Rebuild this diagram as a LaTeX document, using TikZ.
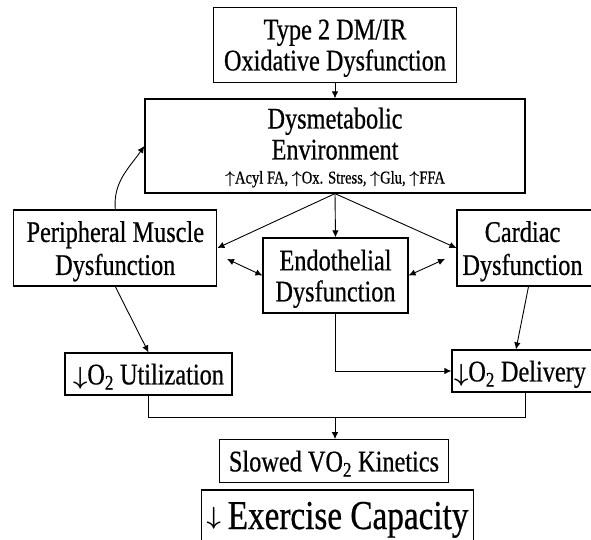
\documentclass[tikz,border=0pt]{standalone}
\usepackage{amsmath}
\usepackage{fontspec}
\setmainfont{Liberation Serif}[FakeStretch=0.81, FakeBold=0.6]
\usetikzlibrary{arrows.meta}

\tikzset{
  box/.style={draw, line width=1.2pt, inner sep=0pt, align=center, text depth=0pt,
    font=\fontsize{30}{31}\selectfont},
  lbl/.style={inner sep=0pt, anchor=base},
  arr/.style={line width=0.9pt, -{Latex[length=7pt,width=6.5pt]}},
  dbl/.style={line width=0.9pt, {Latex[length=7pt,width=6.5pt]}-{Latex[length=7pt,width=6.5pt]}}
}
\newcommand{\uparr}{$\boldsymbol{\uparrow}$}
\newcommand{\dnarr}{$\boldsymbol{\downarrow}$}

\begin{document}
\begin{tikzpicture}[x=1pt, y=1pt]
  \useasboundingbox (0,0) rectangle (591,539);
  \clip (0,0) rectangle (591,539);
  % boxes
  \node[box, minimum width=243pt, minimum height=75pt] (type2) at (335,494)
    {Type 2 DM/IR\\Oxidative Dysfunction};
  \node[box, minimum width=380pt, minimum height=94pt] (dysmet) at (335,393) {};
  \node[lbl, font=\fontsize{30}{31}\selectfont] (dysmettop) at (335,410.5) {Dysmetabolic};
  \node[lbl, font=\fontsize{30}{31}\selectfont] (dysmetmid) at (335,379.5) {Environment};
  \node[lbl, font=\fontsize{18}{20}\selectfont] (dysmetsub) at (335,355.5)
    {\uparr Acyl FA, \uparr Ox. Stress, \uparr Glu, \uparr FFA};
  \node[box, minimum width=203pt, minimum height=76pt, font=\fontsize{30}{33}\selectfont] (periph) at (115.3,291)
    {Peripheral Muscle\\Dysfunction};
  \node[box, minimum width=145pt, minimum height=75pt] (endo) at (335.5,263.5)
    {Endothelial\\Dysfunction};
  \node[box, minimum width=143pt, minimum height=76pt, font=\fontsize{30}{33}\selectfont] (cardiac) at (528.5,291)
    {\hspace*{-12pt}Cardiac\\\hspace*{-12pt}Dysfunction};
  \node[box, minimum width=167pt, minimum height=42pt] (outil) at (148.5,165)
    {\dnarr O\textsubscript{2} Utilization};
  \node[box, minimum width=148pt, minimum height=42pt] (odeliv) at (526,168)
    {\hspace*{-12pt}\dnarr O\textsubscript{2} Delivery};
  \node[box, minimum width=229pt, minimum height=42.5pt] (slowed) at (334,78)
    {Slowed VO\textsubscript{2} Kinetics};
  \node[box, minimum width=271.6pt, minimum height=60pt] (exercise) at (337.5,19) {};
  \node[lbl, font=\fontsize{41}{43}\selectfont] (exercisetxt) at (337.5,10)
    {\raisebox{4.5pt}{\fontsize{24}{24}\selectfont\dnarr}\,Exercise Capacity};
  % free ends and junction
  \coordinate (lefttip) at (227,280);
  \coordinate (righttip) at (445,280);
  \coordinate (join) at (335,122);
  % connectors
  \draw[arr] (type2.south) -- (dysmet.north);
  \draw[arr] (dysmet.south) -- (periph.east);
  \draw[arr] (dysmet.south) -- (endo.north);
  \draw[arr] (dysmet.south) -- (cardiac.west);
  \draw[arr] (periph.north) to[out=95, in=235] (dysmet.west);
  \draw[dbl] (lefttip) -- (endo.west);
  \draw[dbl] (endo.east) -- (righttip);
  \draw[arr] (periph.south) -- (outil.north);
  \draw[arr] (cardiac.south) -- ([xshift=-10pt]odeliv.north);
  \draw[arr] (endo.south) |- (odeliv.west);
  \draw[line width=0.9pt] (outil.south) |- (join);
  \draw[line width=0.9pt] ([xshift=-1pt]odeliv.south) |- (join);
  \draw[arr] (join) -- (join |- slowed.north);
\end{tikzpicture}
\end{document}
